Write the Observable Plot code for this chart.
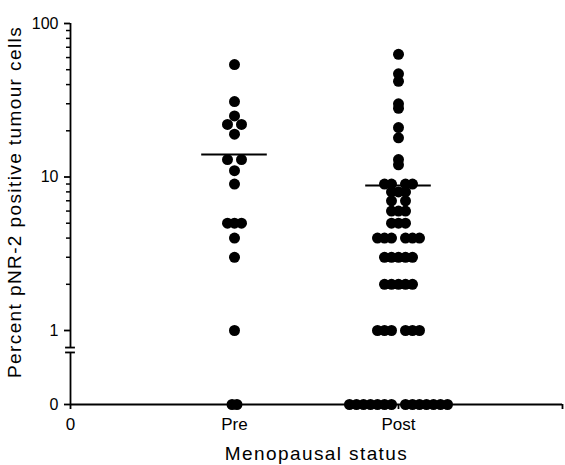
<!DOCTYPE html>
<html><head><meta charset="utf-8">
<script src="https://cdn.jsdelivr.net/npm/d3@7"></script>
<script src="https://cdn.jsdelivr.net/npm/@observablehq/plot@0.6"></script>
<style>body{margin:0;background:#fff} svg{display:block}</style>
</head><body><div id="chart"></div>
<script>
// ---- data ----
const categories = ["Pre", "Post"];
const preValues = [54, 31, 25, 22, 22, 19, 13, 13, 11, 9, 5, 5, 5, 4, 3, 1, 0, 0];
const postValues = [63, 47, 42, 30, 28, 21, 18, 13, 12,
  9, 9, 9, 9, 8, 8, 8, 7, 7, 6, 6, 6, 5, 5, 5,
  4, 4, 4, 4, 4, 4, 3, 3, 3, 3, 3, 2, 2, 2, 2, 2,
  1, 1, 1, 1, 1, 1,
  0, 0, 0, 0, 0, 0, 0, 0, 0, 0, 0, 0, 0, 0];
const groupMeans = [14, 8.8];
const xTickLabels = ["0", "Pre", "Post", ""];
const yTickValues = [0, 1, 10, 100];
const yTickLabels = ["0", "1", "10", "100"];
const yTitle = "Percent pNR-2 positive tumour cells";
const xTitle = "Menopausal status";

// ---- layout ----
const W = 565, H = 465;
const mL = 70, mR = 3, mT = 23, mB = 61;
const zeroPos = -0.482;          // where 0 sits below the log axis break
const breakLow = -0.143, breakHigh = -0.111;
const tv = v => v > 0 ? Math.log10(v) : zeroPos;
const pxPerUnit = (W - mL - mR) / 3;
const step = 7 / pxPerUnit;

function swarm(values, catIndex) {
  const groups = d3.group(values, v => v);
  const out = [];
  for (const [v, arr] of groups) {
    const n = arr.length;
    // small even groups at zero sit tight together; others leave a centre gap
    const tight = n === 2 && v === 0;
    arr.forEach((_, i) => {
      let off;
      if (n % 2 === 1) off = (i - (n - 1) / 2) * step;
      else if (tight) off = (i - 0.5) * step * 0.7;
      else off = (i < n / 2 ? -(n / 2 - i) : (i - n / 2 + 1)) * step;
      out.push({cat: categories[catIndex], value: v, x: catIndex + 1 + off});
    });
  }
  return out;
}
const points = [...swarm(preValues, 0), ...swarm(postValues, 1)];
const means = categories.map((c, i) => ({cat: c, pos: i + 1, value: groupMeans[i]}));

const minor = [];
for (const d of [1, 10]) for (let k = 2; k <= 9; k++) minor.push(Math.log10(d * k));

const font = "'Liberation Sans', Arial, Helvetica, sans-serif";
const sw = 1.8;

const chart = Plot.plot({
  width: W, height: H,
  marginLeft: mL, marginRight: mR, marginTop: mT, marginBottom: mB,
  style: {fontFamily: font, color: "black", background: "white"},
  x: {domain: [0, 3], label: null},
  y: {domain: [zeroPos, 2], label: null},
  marks: [
    // axis lines
    Plot.ruleX([0], {y1: zeroPos, y2: breakLow, strokeWidth: sw}),
    Plot.ruleX([0], {y1: breakHigh, y2: 2, strokeWidth: sw}),
    Plot.ruleY([breakLow, breakHigh], {x1: -0.03, x2: 0.03, strokeWidth: sw}),
    Plot.ruleY([zeroPos], {x1: 0, x2: 3, strokeWidth: sw}),
    // y axis
    Plot.axisY(yTickValues.map(tv), {tickFormat: (d, i) => yTickLabels[i], tickSize: 6, tickPadding: 6,
      fontSize: 16, strokeWidth: sw, label: null}),
    Plot.axisY(minor, {tickFormat: () => "", tickSize: 4, strokeWidth: 1.5, label: null}),
    // x axis
    Plot.axisX([0, 1, 2, 3], {tickFormat: (d, i) => xTickLabels[i], tickSize: 5, tickPadding: 8,
      fontSize: 17, strokeWidth: sw, label: null}),
    // data
    Plot.ruleY(means, {y: d => tv(d.value), x1: d => d.pos - 0.2, x2: d => d.pos + 0.2, strokeWidth: 2}),
    Plot.dot(points, {x: "x", y: d => tv(d.value), r: 5.5, fill: "black", stroke: "none"}),
    // titles
    Plot.text([xTitle], {text: d => d, frameAnchor: "bottom", dy: 55, lineAnchor: "bottom",
      textAnchor: "middle", fontSize: 19}),
    Plot.text([yTitle], {text: d => d, frameAnchor: "left", rotate: -90, dx: -50, dy: -12,
      lineAnchor: "bottom", textAnchor: "middle", fontSize: 19})
  ]
});
d3.select(chart).selectAll("text").filter(function () {
  return this.textContent === xTitle || this.textContent === yTitle;
}).style("letter-spacing", "1.4px");
document.getElementById("chart").appendChild(chart);
</script>
</body></html>
